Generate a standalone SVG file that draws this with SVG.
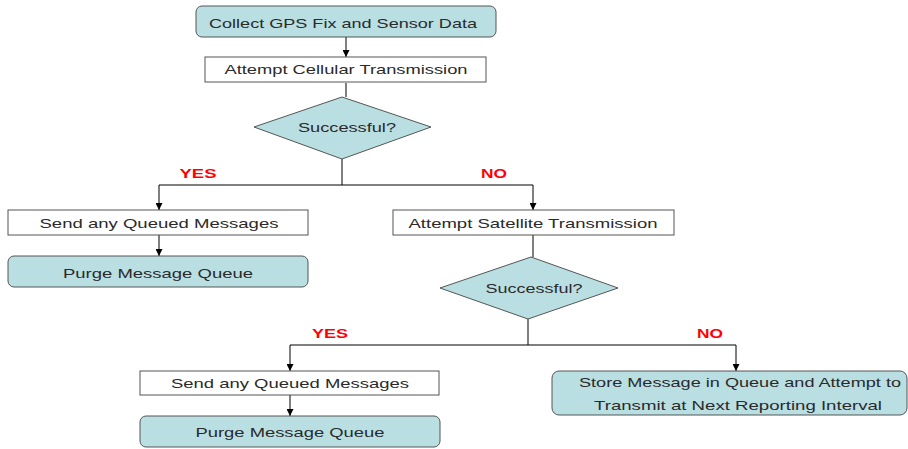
<svg xmlns="http://www.w3.org/2000/svg" width="908" height="449" viewBox="0 0 908 449">
  <style>
    .term { fill: #badfe2; stroke: #555; stroke-width: 1; }
    .proc { fill: #ffffff; stroke: #555; stroke-width: 1; }
    .dec  { fill: #badfe2; stroke: #555; stroke-width: 1; }
    .t    { font-family: "Liberation Sans", Arial, sans-serif; font-size: 13.5px; fill: #2a2a2a; text-anchor: middle; }
    .lbl  { font-family: "Liberation Sans", Arial, sans-serif; font-size: 13.5px; font-weight: bold; fill: #ff0000; text-anchor: middle; }
    .edge { fill: none; stroke: #000; stroke-width: 1; }
  </style>
  <defs>
    <marker id="arrow" viewBox="0 0 10 10" refX="10" refY="5" markerWidth="7" markerHeight="7" orient="auto" markerUnits="userSpaceOnUse">
      <path d="M0,0 L10,5 L0,10 z" fill="#000"/>
    </marker>
  </defs>
  <rect width="908" height="449" fill="#ffffff"/>

  <g id="connectors">
    <line class="edge" x1="346" y1="37" x2="346" y2="57" marker-end="url(#arrow)"/>
    <line class="edge" x1="346" y1="83" x2="346" y2="97"/>
    <polyline class="edge" points="342,159 342,185"/>
    <polyline class="edge" points="159,185 533,185"/>
    <line class="edge" x1="159" y1="185" x2="159" y2="210" marker-end="url(#arrow)"/>
    <line class="edge" x1="533" y1="185" x2="533" y2="210" marker-end="url(#arrow)"/>
    <line class="edge" x1="159" y1="235" x2="159" y2="256" marker-end="url(#arrow)"/>
    <line class="edge" x1="533" y1="235" x2="533" y2="257"/>
    <polyline class="edge" points="528,319 528,345"/>
    <polyline class="edge" points="290,345 736,345"/>
    <line class="edge" x1="290" y1="345" x2="290" y2="371" marker-end="url(#arrow)"/>
    <line class="edge" x1="736" y1="345" x2="736" y2="371" marker-end="url(#arrow)"/>
    <line class="edge" x1="290" y1="395" x2="290" y2="416" marker-end="url(#arrow)"/>
    <text class="lbl" x="198" y="178" textLength="37" lengthAdjust="spacingAndGlyphs">YES</text>
    <text class="lbl" x="494" y="178" textLength="26" lengthAdjust="spacingAndGlyphs">NO</text>
    <text class="lbl" x="330" y="338" textLength="36" lengthAdjust="spacingAndGlyphs">YES</text>
    <text class="lbl" x="710" y="338" textLength="26" lengthAdjust="spacingAndGlyphs">NO</text>
  </g>

  <g id="collect">
    <rect class="term" x="196" y="6" width="300" height="31" rx="6"/>
    <text class="t" x="343" y="28" textLength="268" lengthAdjust="spacingAndGlyphs">Collect GPS Fix and Sensor Data</text>
  </g>
  <g id="cellular">
    <rect class="proc" x="205" y="57" width="281" height="25"/>
    <text class="t" x="346" y="74" textLength="243" lengthAdjust="spacingAndGlyphs">Attempt Cellular Transmission</text>
  </g>
  <g id="success1">
    <polygon class="dec" points="342,97 431,127 342,159 254,127"/>
    <text class="t" x="347" y="132" textLength="98" lengthAdjust="spacingAndGlyphs">Successful?</text>
  </g>
  <g id="send1">
    <rect class="proc" x="8" y="210" width="300" height="25"/>
    <text class="t" x="159" y="228" textLength="239" lengthAdjust="spacingAndGlyphs">Send any Queued Messages</text>
  </g>
  <g id="purge1">
    <rect class="term" x="8" y="256" width="300" height="31" rx="6"/>
    <text class="t" x="158" y="278" textLength="190" lengthAdjust="spacingAndGlyphs">Purge Message Queue</text>
  </g>
  <g id="satellite">
    <rect class="proc" x="393" y="210" width="281" height="25"/>
    <text class="t" x="533" y="228" textLength="249" lengthAdjust="spacingAndGlyphs">Attempt Satellite Transmission</text>
  </g>
  <g id="success2">
    <polygon class="dec" points="531,257 618,288 528,319 440,288"/>
    <text class="t" x="534" y="293" textLength="97" lengthAdjust="spacingAndGlyphs">Successful?</text>
  </g>
  <g id="send2">
    <rect class="proc" x="140" y="371" width="299" height="24"/>
    <text class="t" x="290" y="388" textLength="238" lengthAdjust="spacingAndGlyphs">Send any Queued Messages</text>
  </g>
  <g id="purge2">
    <rect class="term" x="140" y="416" width="300" height="31" rx="6"/>
    <text class="t" x="290" y="437" textLength="189" lengthAdjust="spacingAndGlyphs">Purge Message Queue</text>
  </g>
  <g id="store">
    <rect class="term" x="552" y="371" width="355" height="44" rx="7"/>
    <text class="t" x="740" y="387" textLength="322" lengthAdjust="spacingAndGlyphs">Store Message in Queue and Attempt to</text>
    <text class="t" x="738" y="410" textLength="288" lengthAdjust="spacingAndGlyphs">Transmit at Next Reporting Interval</text>
  </g>
</svg>
